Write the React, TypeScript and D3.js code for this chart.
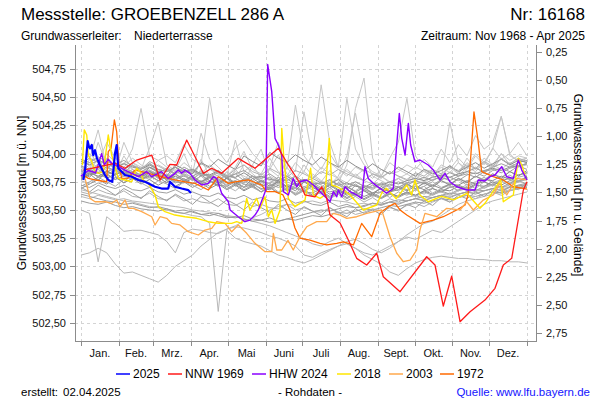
import React from 'react';
import * as d3 from 'd3';

type Pt = [number, number]; // [day of year, level m ü. NN]

// ---------- axis / label data ----------
const monthLabels = ['Jan.', 'Feb.', 'Mrz.', 'Apr.', 'Mai', 'Juni', 'Juli', 'Aug.', 'Sept.', 'Okt.', 'Nov.', 'Dez.'];
const monthStarts = [0, 31, 59, 90, 120, 151, 181, 212, 243, 273, 304, 334, 365];
const levelTicks = [502.5, 502.75, 503.0, 503.25, 503.5, 503.75, 504.0, 504.25, 504.5, 504.75];
const depthTicks = [0.25, 0.5, 0.75, 1.0, 1.25, 1.5, 1.75, 2.0, 2.25, 2.5, 2.75];
const GROUND_LEVEL = 505.155;
const LEVEL_DOMAIN: [number, number] = [502.338, 504.963];

// ---------- highlighted years ----------
const y2025: Pt[] = [[1.9, 503.766], [3.3, 503.854], [5.5, 504.11], [6.5, 504.06], [7.4, 504.047], [8.8, 504.076], [10, 503.987], [11.5, 504.03], [13, 503.96], [15.5, 503.899], [19.6, 503.81], [22.3, 503.766], [25.6, 503.75], [27.8, 504.0], [29.2, 504.076], [30.5, 503.87], [36, 503.81], [41.5, 503.795], [46.9, 503.766], [52.4, 503.75], [60.6, 503.706], [66, 503.69], [71.4, 503.69], [72.8, 503.75], [76.9, 503.706], [82.4, 503.69], [87.8, 503.676], [90, 503.65]];

const nnw1969: Pt[] = [[1.9, 503.854], [11.5, 503.875], [27.8, 503.914], [36, 503.87], [45.6, 503.943], [57.9, 503.987], [64.7, 503.766], [72.8, 503.905], [78.3, 503.899], [86.5, 504.12], [100.1, 503.825], [107, 503.87], [115.1, 503.825], [128.7, 503.958], [142.4, 503.87], [152, 503.958], [161.5, 504.047], [169.7, 503.899], [179.2, 503.737], [183.3, 503.633], [191.5, 503.617], [197, 503.706], [201.1, 503.603], [203.8, 503.455], [212, 503.384], [218.8, 503.233], [225.6, 503.071], [233.8, 503.012], [242, 503.116], [247.4, 502.908], [261.1, 502.775], [282.9, 503.085], [289.7, 503.012], [296.5, 502.648], [303.4, 502.914], [310.2, 502.509], [318.4, 502.598], [330.6, 502.701], [338.8, 502.805], [345.6, 503.012], [352.5, 503.071], [362, 503.677], [365, 503.75]];

const hhw2024: Pt[] = [[0, 503.8], [6, 503.85], [12, 503.83], [16.9, 504.0], [19.1, 503.899], [22.3, 503.95], [25.1, 503.914], [27.8, 503.899], [36, 503.854], [46.9, 503.795], [53.8, 503.84], [57.9, 503.795], [66, 503.84], [71.4, 503.78], [76.9, 503.825], [79.6, 503.854], [82.4, 503.825], [85.1, 503.854], [89.2, 503.825], [93.3, 503.766], [98.8, 503.721], [104.2, 503.736], [108.3, 503.795], [111.1, 503.78], [115.1, 503.648], [120.6, 503.573], [122, 503.5], [128.7, 503.44], [134.2, 503.396], [138.3, 503.41], [142.4, 503.455], [145.1, 503.5], [149.2, 503.617], [151.2, 503.677], [152.8, 504.79], [156.1, 504.549], [158.8, 504.135], [161.5, 504.076], [164.3, 503.987], [165.6, 503.662], [169.7, 503.633], [173.7, 503.78], [176.5, 503.706], [179.2, 503.75], [184.7, 503.766], [190.1, 503.721], [195.6, 503.662], [201.1, 503.603], [203.8, 503.573], [206.5, 503.662], [209.3, 503.617], [210.6, 503.677], [213.4, 503.617], [216.1, 503.706], [220.2, 503.662], [225.6, 503.633], [229.7, 503.603], [232.4, 503.884], [235.1, 503.78], [239.2, 503.736], [244.7, 503.692], [250.2, 503.648], [255.6, 503.692], [257.8, 504.0], [260.5, 504.357], [262.5, 504.135], [265.2, 503.987], [267.9, 504.268], [269.8, 504.076], [273.3, 503.928], [277.4, 503.943], [284.2, 503.899], [288.3, 503.854], [293.8, 503.766], [297.9, 503.825], [302, 503.75], [307.5, 503.706], [315.7, 503.677], [322.5, 503.677], [325.1, 503.766], [330.6, 503.757], [334.7, 503.795], [338.8, 503.81], [344.3, 503.884], [348.4, 503.795], [353.8, 503.78], [357.9, 503.943], [360.7, 503.854], [365, 503.766]];

const y2018: Pt[] = [[1.1, 503.899], [2.7, 504.21], [4.7, 504.165], [6, 503.987], [8.8, 503.928], [11.5, 503.84], [14.2, 503.825], [18.3, 503.84], [22.3, 504.165], [25.1, 503.987], [30.5, 503.78], [36, 503.766], [41.5, 503.75], [45.6, 503.87], [48.3, 503.84], [51, 503.766], [55.1, 503.736], [60.6, 503.633], [63.3, 503.529], [68.7, 503.485], [76.9, 503.455], [85.1, 503.44], [94.7, 503.426], [104.2, 503.396], [112.4, 503.381], [123.3, 503.381], [127.4, 503.396], [131.5, 503.381], [135.6, 503.603], [138.3, 503.5], [143.8, 503.603], [146.5, 503.515], [150.6, 503.617], [153.3, 503.44], [156.1, 503.5], [158.8, 503.381], [162.9, 503.5], [164.3, 504.224], [166.4, 503.899], [169.7, 503.603], [175.1, 503.529], [183.3, 503.588], [187.9, 503.87], [190.1, 503.633], [195.6, 503.603], [199.7, 503.633], [203.2, 504.135], [205.2, 503.721], [209.3, 503.706], [214.7, 503.677], [220.2, 503.633], [231, 503.5], [242, 503.544], [246, 503.648], [250, 503.692], [258, 503.6], [266.6, 503.721], [270.6, 503.633], [273.3, 503.766], [277.4, 503.633], [284.2, 503.573], [295, 503.62], [305, 503.59], [315.7, 503.648], [326.5, 503.515], [330.6, 503.559], [343.5, 503.766], [345.6, 503.573], [353.8, 503.633], [357.9, 503.958], [360.7, 503.899], [363.4, 503.81]];

const y2003: Pt[] = [[3.3, 503.78], [7.4, 503.603], [11.5, 503.573], [19.6, 503.573], [25.1, 503.559], [29.2, 503.588], [31.9, 503.529], [36, 503.588], [38.7, 503.515], [42.8, 503.515], [49.7, 503.485], [57.9, 503.44], [60.6, 503.367], [64.7, 503.44], [70.1, 503.426], [74.2, 503.381], [81, 503.367], [87.8, 503.307], [96, 503.278], [101.5, 503.322], [107, 503.337], [111.1, 503.396], [117.9, 503.381], [123.3, 503.307], [128.7, 503.367], [135.6, 503.293], [142.4, 503.204], [150.6, 503.13], [156.1, 503.13], [157.4, 503.293], [160.2, 503.145], [164.3, 503.145], [169.4, 503.23], [173.7, 503.145], [179.2, 503.263], [184.7, 503.351], [192.9, 503.396], [201.1, 503.396], [206.5, 503.47], [212, 503.455], [217.5, 503.426], [225.6, 503.44], [233.8, 503.47], [246.1, 503.5], [252.9, 503.263], [258.4, 503.116], [263.8, 503.041], [269.3, 503.056], [274.7, 503.145], [277.4, 503.322], [281.5, 503.47], [291.1, 503.44], [299.3, 503.515], [310.2, 503.5], [315.7, 503.573], [321.1, 503.5], [329.2, 503.588], [337.4, 503.633], [342.9, 503.736], [348.4, 503.633], [356.6, 503.78], [365, 503.766]];

const y1972: Pt[] = [[1.9, 503.81], [6, 503.78], [11.5, 503.766], [16.9, 503.757], [21, 503.75], [22.3, 504.017], [24.6, 504.047], [27.3, 504.298], [29.2, 504.194], [31.1, 503.899], [33.3, 503.78], [38.5, 503.783], [44.2, 503.854], [49.7, 503.84], [60.6, 503.81], [76.9, 503.766], [85.1, 503.75], [93.3, 503.736], [104.2, 503.677], [112.4, 503.795], [120.6, 503.736], [126, 503.75], [136.9, 503.766], [147.9, 503.721], [152, 503.662], [158.8, 503.662], [165.3, 503.633], [171, 503.5], [175.1, 503.34], [179.2, 503.25], [187.4, 503.233], [195.6, 503.204], [201.1, 503.19], [209.3, 503.204], [214.7, 503.218], [222.9, 503.19], [229.7, 503.381], [233.8, 503.322], [237.9, 503.263], [244.7, 503.47], [251.5, 503.529], [257, 503.559], [261.1, 503.5], [266.6, 503.455], [277.4, 503.381], [288.3, 503.41], [296.5, 503.44], [307.5, 503.5], [314.3, 503.544], [316.7, 503.633], [321.6, 504.37], [324.9, 504.12], [327.9, 503.84], [337.4, 503.795], [345.6, 503.766], [353.8, 503.706], [362, 503.692], [365, 503.685]];

// ---------- other years (weekly values, cm above 503.00 m ü. NN) ----------
const GREY_BASE = 503.0;
const g01 = [86, 83, 89, 85, 81, 87, 84, 80, 85, 82, 78, 84, 81, 77, 83, 79, 76, 81, 78, 74, 80, 76, 73, 79, 75, 72, 77, 74, 70, 76, 72, 69, 75, 71, 68, 73, 70, 67, 72, 69, 74, 71, 76, 73, 78, 75, 80, 77, 82, 79, 84, 81, 83];
const g02 = [93, 90, 94, 91, 88, 91, 88, 86, 90, 86, 84, 88, 84, 86, 82, 81, 85, 80, 79, 83, 78, 80, 77, 76, 80, 75, 77, 74, 73, 77, 72, 74, 71, 70, 74, 72, 75, 73, 76, 78, 76, 79, 81, 79, 82, 84, 82, 85, 87, 85, 88, 89, 91];
const g03 = [72, 70, 74, 71, 69, 72, 68, 67, 70, 66, 65, 68, 64, 66, 63, 62, 65, 61, 60, 63, 59, 61, 58, 57, 60, 56, 58, 55, 54, 57, 53, 55, 52, 53, 56, 54, 57, 55, 58, 60, 58, 61, 63, 61, 64, 66, 64, 67, 69, 67, 70, 71, 73];
const g04 = [80, 85, 79, 84, 87, 81, 86, 80, 77, 83, 76, 82, 75, 79, 74, 79, 73, 78, 71, 76, 70, 75, 69, 74, 68, 72, 66, 71, 65, 70, 64, 68, 63, 67, 62, 66, 61, 66, 63, 68, 64, 69, 66, 71, 67, 73, 69, 75, 71, 77, 73, 79, 81];
const g05 = [77, 81, 83, 78, 82, 84, 79, 77, 80, 76, 79, 75, 74, 78, 73, 76, 72, 71, 75, 70, 73, 69, 68, 72, 67, 70, 66, 65, 69, 64, 67, 63, 66, 62, 65, 61, 64, 62, 66, 63, 67, 69, 66, 70, 72, 69, 73, 75, 72, 76, 78, 75, 80];
const g06 = [89, 86, 83, 88, 85, 82, 84, 81, 79, 84, 81, 78, 80, 77, 75, 80, 77, 74, 76, 73, 71, 76, 73, 70, 72, 69, 67, 72, 69, 66, 68, 65, 63, 68, 65, 66, 69, 71, 68, 73, 75, 72, 77, 79, 76, 81, 83, 80, 85, 87, 84, 89, 91];
const g07 = [82, 84, 79, 81, 86, 80, 77, 83, 85, 78, 80, 76, 82, 79, 74, 78, 81, 75, 72, 78, 76, 71, 74, 79, 73, 70, 75, 72, 68, 74, 77, 70, 67, 72, 69, 73, 66, 70, 74, 68, 71, 75, 70, 73, 77, 72, 75, 79, 74, 77, 81, 76, 79];
const g08 = [69, 73, 77, 73, 79, 74, 78, 73, 77, 72, 76, 71, 75, 70, 74, 69, 73, 68, 72, 67, 71, 66, 70, 65, 69, 64, 68, 63, 67, 62, 66, 61, 65, 60, 64, 61, 65, 62, 66, 63, 67, 64, 68, 67, 71, 68, 72, 71, 75, 72, 76, 75, 79];
const g09 = [91, 96, 92, 87, 92, 86, 90, 84, 88, 83, 87, 82, 86, 80, 84, 79, 83, 78, 82, 76, 80, 75, 79, 74, 78, 72, 76, 71, 75, 70, 74, 69, 73, 68, 72, 69, 73, 70, 74, 76, 73, 77, 79, 76, 80, 82, 79, 84, 86, 83, 87, 89, 86];
const g10 = [76, 73, 79, 75, 71, 77, 80, 74, 70, 76, 73, 69, 75, 72, 68, 74, 77, 71, 67, 73, 70, 66, 72, 75, 68, 65, 71, 68, 64, 70, 73, 66, 62, 68, 65, 61, 67, 70, 64, 68, 71, 65, 69, 72, 67, 71, 74, 69, 73, 76, 71, 75, 78];
const g11 = [85, 79, 88, 82, 77, 85, 80, 75, 84, 79, 74, 82, 77, 73, 81, 76, 71, 79, 74, 70, 78, 73, 69, 76, 71, 67, 75, 70, 66, 73, 68, 64, 72, 67, 63, 71, 66, 68, 73, 69, 74, 70, 76, 72, 78, 74, 80, 76, 82, 78, 84, 80, 85];
const g12 = [71, 75, 79, 81, 77, 80, 83, 78, 81, 76, 79, 74, 78, 73, 76, 71, 75, 69, 73, 68, 72, 66, 70, 65, 69, 63, 67, 62, 66, 61, 65, 60, 64, 59, 63, 60, 64, 61, 65, 62, 66, 63, 67, 64, 68, 70, 67, 71, 73, 70, 74, 76, 73];
const g13 = [84, 82, 86, 81, 85, 80, 84, 79, 83, 78, 82, 77, 81, 76, 80, 74, 78, 72, 76, 70, 74, 68, 72, 66, 70, 64, 68, 62, 66, 60, 64, 58, 62, 57, 61, 56, 60, 57, 61, 63, 60, 64, 66, 63, 67, 69, 66, 70, 72, 69, 73, 75, 77];
const g14 = [79, 83, 80, 84, 81, 85, 82, 79, 84, 81, 77, 80, 76, 80, 75, 79, 74, 78, 73, 77, 72, 76, 71, 75, 70, 74, 69, 73, 68, 72, 67, 71, 66, 70, 65, 69, 66, 70, 67, 71, 68, 72, 69, 73, 72, 76, 73, 77, 76, 80, 77, 81, 83];
const g15 = [95, 92, 97, 93, 90, 94, 89, 87, 91, 86, 84, 88, 83, 85, 81, 80, 84, 79, 82, 85, 80, 78, 82, 77, 76, 80, 75, 78, 74, 73, 77, 72, 75, 71, 70, 74, 71, 75, 72, 76, 79, 76, 80, 83, 80, 84, 87, 84, 88, 91, 88, 92, 94];
const g16 = [66, 64, 68, 65, 63, 67, 62, 61, 65, 60, 59, 63, 58, 60, 57, 56, 60, 55, 54, 58, 53, 55, 52, 51, 55, 50, 52, 49, 48, 52, 47, 50, 46, 48, 51, 49, 52, 50, 54, 56, 53, 57, 60, 57, 61, 63, 60, 64, 66, 63, 67, 69, 71];
const g17 = [78, 82, 76, 85, 80, 74, 83, 79, 88, 84, 80, 90, 86, 82, 92, 88, 95, 90, 86, 98, 93, 89, 101, 96, 92, 99, 94, 90, 97, 92, 88, 94, 89, 85, 91, 86, 82, 88, 84, 80, 86, 82, 85, 89, 84, 88, 92, 87, 91, 95, 90, 94, 92];
const g18 = [70, 66, 72, 68, 63, 69, 65, 60, 67, 62, 58, 64, 60, 55, 62, 57, 53, 59, 55, 50, 57, 52, 48, 55, 50, 46, 53, 49, 45, 52, 48, 44, 51, 47, 50, 46, 53, 49, 55, 52, 58, 54, 61, 57, 63, 60, 66, 62, 68, 65, 71, 68, 74];
const g19 = [88, 84, 91, 95, 87, 83, 90, 86, 93, 89, 85, 82, 88, 84, 91, 87, 83, 80, 86, 90, 84, 81, 87, 83, 79, 85, 82, 78, 84, 81, 86, 82, 79, 76, 82, 79, 84, 80, 77, 83, 80, 86, 82, 88, 85, 90, 87, 93, 89, 95, 91, 96, 93];
const m01 = [58, 56, 55, 57, 54, 52, 53, 51, 50, 49, 51, 48, 47, 49, 46, 45, 47, 44, 43, 45, 42, 41, 43, 40, 42, 44, 46, 48, 50, 49, 51, 53, 52, 54, 56, 55, 57, 59, 58, 60, 62, 61, 63, 65, 64, 66, 68, 67, 69, 71, 70, 72, 74];
const m02 = [64, 62, 60, 58, 57, 55, 56, 54, 52, 53, 51, 49, 50, 48, 46, 47, 45, 43, 44, 42, 40, 41, 39, 40, 42, 41, 43, 45, 44, 46, 48, 47, 49, 51, 50, 52, 54, 53, 55, 57, 56, 58, 60, 59, 61, 63, 62, 64, 66, 65, 67, 69, 70];
const s01 = [80, 95, 121, 88, 84, 110, 92, 86, 105, 128, 90, 85, 100, 82, 118, 95, 88, 80, 112, 84, 90, 78, 86, 99, 82, 76, 90, 80, 75, 85, 78, 74, 82, 76, 73, 80, 75, 78, 82, 77, 85, 80, 88, 83, 92, 86, 98, 90, 105, 95, 100, 92, 96];
const s02 = [88, 100, 92, 110, 96, 90, 104, 140, 98, 94, 98, 92, 108, 95, 90, 149, 102, 92, 105, 112, 100, 92, 88, 110, 86, 143, 98, 88, 82, 92, 86, 80, 88, 84, 78, 86, 82, 84, 90, 86, 95, 88, 104, 92, 108, 98, 116, 104, 110, 133, 100, 110, 98];
const s03 = [78, 85, 110, 90, 82, 98, 86, 80, 92, 85, 78, 88, 82, 76, 95, 80, 75, 84, 78, 74, 90, 104, 80, 76, 88, 78, 74, 82, 76, 72, 80, 98, 136, 96, 80, 76, 72, 78, 74, 80, 76, 84, 78, 90, 82, 96, 86, 92, 88, 100, 90, 95, 92];
const s04 = [82, 88, 84, 92, 86, 80, 90, 84, 78, 86, 80, 76, 84, 78, 74, 82, 76, 72, 86, 78, 74, 80, 76, 72, 78, 74, 70, 76, 72, 68, 74, 90, 140, 167, 96, 80, 74, 78, 72, 76, 74, 80, 76, 84, 80, 88, 84, 92, 86, 96, 90, 88, 92];
const s05 = [86, 92, 88, 96, 90, 86, 92, 88, 84, 90, 86, 82, 88, 84, 80, 86, 82, 78, 84, 80, 76, 82, 78, 74, 80, 76, 84, 78, 88, 82, 78, 86, 80, 76, 82, 80, 96, 110, 149, 98, 86, 84, 78, 128, 92, 84, 88, 82, 90, 86, 92, 88, 90];
const s06 = [84, 90, 86, 100, 92, 88, 96, 90, 86, 94, 88, 84, 92, 86, 82, 90, 84, 80, 88, 102, 86, 82, 96, 84, 80, 92, 84, 100, 161, 110, 88, 84, 80, 86, 82, 78, 84, 80, 76, 82, 78, 84, 80, 88, 82, 92, 86, 96, 90, 100, 94, 98, 96];
const s07 = [90, 84, 96, 88, 82, 92, 86, 80, 90, 84, 78, 88, 82, 76, 86, 80, 74, 84, 78, 90, 82, 76, 86, 80, 92, 84, 137, 96, 86, 100, 88, 149, 104, 90, 84, 80, 92, 86, 82, 88, 84, 80, 90, 86, 96, 88, 100, 92, 104, 133, 98, 94, 96];
const l01 = [50, 47, 4, 44, 38, 31, 32, 32, 30, 28, 22, 12, 30, 33, 32, 30, 29, 33, 36, 40, 43, 46, 50, 53, 55, 54, 57, 58, 56, 59, 58, 57, 55, 56, 54, 55, 57, 56, 58, 60, 59, 61, 63, 62, 64, 66, 65, 67, 69, 68, 70, 72, 71];
const l02 = [10, 12, 16, 12, 2, -6, -5, -8, -11, -14, -8, 0, 5, 10, 18, 24, 30, 33, 35, 34, 32, 30, 27, 25, 22, 18, 10, 8, 12, 15, 18, 20, 16, 10, 6, 2, -5, -8, -2, 3, 6, 8, 9, 8, 7, 7, 6, 6, 5, 5, 4, 4, 3];
const l03 = [68, 66, 64, 62, 60, 58, 57, 55, 53, 52, 50, 48, 47, 45, 44, 38, -40, 32, 25, 22, 20, 18, 14, 10, 8, 5, 3, 6, 10, 14, 18, 22, 24, 20, 15, 12, 16, 22, 28, 33, 38, 40, 45, 50, 55, 58, 60, 62, 64, 66, 68, 70, 72];
const l04 = [62, 60, 63, 61, 59, 60, 58, 57, 56, 55, 54, 53, 52, 50, 49, 48, 47, 45, 44, 42, 40, 38, 36, 33, 30, 27, 24, 20, 18, 22, 25, 20, 16, 12, 10, 14, 18, 22, 26, 24, 28, 32, 30, 35, 40, 45, 50, 55, 58, 60, 62, 64, 66];

const spikyYears = [s01, s02, s03, s04, s05, s06, s07];
const lowYears = [l01, l02, l03, l04, m01, m02];
const coreYears = [g01, g02, g03, g04, g05, g06, g07, g08, g09, g10, g11, g12, g13, g14, g15, g16, g17, g18, g19];

// ---------- styling / layout ----------
const FONT = "'Liberation Sans', Arial, Helvetica, sans-serif";
const PLOT = { left: 75, right: 536, top: 45, bottom: 341 };
const X_RANGE: [number, number] = [81, 527];

const highlights = [
  { label: '1972', data: y1972, color: '#ff6a00', width: 1.3, lx: 440 },
  { label: '2003', data: y2003, color: '#ffa94d', width: 1.3, lx: 389 },
  { label: '2018', data: y2018, color: '#ffe600', width: 1.4, lx: 337 },
  { label: 'HHW 2024', data: hhw2024, color: '#8a00ff', width: 1.4, lx: 252 },
  { label: 'NNW 1969', data: nnw1969, color: '#ff1a1a', width: 1.3, lx: 168 },
  { label: '2025', data: y2025, color: '#0000ff', width: 2.2, lx: 116 },
];
const legendOrder = ['2025', 'NNW 1969', 'HHW 2024', '2018', '2003', '1972'];

const fmt = (v: number) => v.toFixed(2).replace('.', ',');

export default function App() {
  const x = d3.scaleLinear().domain([0, 365]).range(X_RANGE);
  const y = d3.scaleLinear().domain(LEVEL_DOMAIN).range([PLOT.bottom, PLOT.top]);
  const yR = d3
    .scaleLinear()
    .domain([GROUND_LEVEL - LEVEL_DOMAIN[1], GROUND_LEVEL - LEVEL_DOMAIN[0]])
    .range([PLOT.top, PLOT.bottom]);
  const line = d3
    .line<Pt>()
    .x((d) => x(d[0]))
    .y((d) => y(d[1]));
  const greyPts = (vals: number[]): Pt[] =>
    vals.map((v, i) => [(i * 365) / (vals.length - 1), GREY_BASE + v / 100] as Pt);

  const midMonth = monthLabels.map((_, i) => (monthStarts[i] + monthStarts[i + 1]) / 2);

  return (
    <svg
      width={600}
      height={400}
      style={{ position: 'fixed', left: 0, top: 0, background: '#fff' }}
      fontFamily={FONT}
    >
      <rect x={0} y={0} width={600} height={400} fill="#fff" />
      {/* header */}
      <text x={21} y={20} fontSize={17} fill="#000">Messstelle: GROEBENZELL 286 A</text>
      <text x={585} y={20} fontSize={17} fill="#000" textAnchor="end">Nr: 16168</text>
      <text x={21} y={40} fontSize={12} fill="#000">Grundwasserleiter:</text>
      <text x={134} y={40} fontSize={12} fill="#000">Niederterrasse</text>
      <text x={585} y={40} fontSize={12} fill="#000" textAnchor="end">Zeitraum: Nov 1968 - Apr 2025</text>

      {/* grid */}
      <g stroke="#d4d4d4" strokeWidth={1} strokeDasharray="3,3">
        {levelTicks.map((t) => (
          <line key={'h' + t} x1={PLOT.left} x2={PLOT.right} y1={Math.round(y(t)) + 0.5} y2={Math.round(y(t)) + 0.5} />
        ))}
        {monthStarts.map((d) => (
          <line key={'v' + d} x1={Math.round(x(d)) + 0.5} x2={Math.round(x(d)) + 0.5} y1={PLOT.top} y2={PLOT.bottom} />
        ))}
      </g>

      {/* other years */}
      <g fill="none" strokeLinejoin="round">
        {spikyYears.map((s, i) => (
          <path key={'s' + i} d={line(greyPts(s)) || ''} stroke="#c6c6c6" strokeWidth={1} />
        ))}
        {lowYears.map((s, i) => (
          <path key={'l' + i} d={line(greyPts(s)) || ''} stroke={i < 4 ? '#b8b8b8' : '#9c9c9c'} strokeWidth={1} />
        ))}
        {coreYears.map((s, i) => (
          <path key={'g' + i} d={line(greyPts(s)) || ''} stroke={i % 3 === 0 ? '#b0b0b0' : i % 3 === 1 ? '#8e8e8e' : '#a0a0a0'} strokeWidth={1} />
        ))}
      </g>

      {/* highlighted years */}
      <g fill="none" strokeLinejoin="round">
        {highlights.map((h) => (
          <path key={h.label} d={line(h.data) || ''} stroke={h.color} strokeWidth={h.width} />
        ))}
      </g>

      {/* axes */}
      <g stroke="#8c8c8c" strokeWidth={1} fill="none">
        <line x1={PLOT.left + 0.5} x2={PLOT.left + 0.5} y1={PLOT.top} y2={PLOT.bottom + 0.5} />
        <line x1={PLOT.right + 0.5} x2={PLOT.right + 0.5} y1={PLOT.top} y2={PLOT.bottom + 0.5} />
        <line x1={PLOT.left} x2={PLOT.right + 1} y1={PLOT.bottom + 0.5} y2={PLOT.bottom + 0.5} />
        {levelTicks.map((t) => (
          <line key={'lt' + t} x1={PLOT.left - 5} x2={PLOT.left} y1={Math.round(y(t)) + 0.5} y2={Math.round(y(t)) + 0.5} />
        ))}
        {depthTicks.map((t) => (
          <line key={'rt' + t} x1={PLOT.right + 1} x2={PLOT.right + 6} y1={Math.round(yR(t)) + 0.5} y2={Math.round(yR(t)) + 0.5} />
        ))}
        {monthStarts.map((d) => (
          <line key={'xt' + d} x1={Math.round(x(d)) + 0.5} x2={Math.round(x(d)) + 0.5} y1={PLOT.bottom} y2={PLOT.bottom + 5} />
        ))}
      </g>
      <g fontSize={11} fill="#111">
        {levelTicks.map((t) => (
          <text key={'ll' + t} x={66} y={y(t) + 4} textAnchor="end">{fmt(t)}</text>
        ))}
        {depthTicks.map((t) => (
          <text key={'rl' + t} x={546} y={yR(t) + 4}>{fmt(t)}</text>
        ))}
        {monthLabels.map((m, i) => (
          <text key={m} x={x(midMonth[i])} y={357} textAnchor="middle">{m}</text>
        ))}
      </g>
      <text transform="translate(26,193) rotate(-90)" textAnchor="middle" fontSize={12} fill="#000">
        Grundwasserstand [m ü. NN]
      </text>
      <text transform="translate(574,185) rotate(90)" textAnchor="middle" fontSize={12} fill="#000">
        Grundwasserstand [m u. Gelände]
      </text>

      {/* legend */}
      <g fontSize={12}>
        {legendOrder.map((lab) => {
          const h = highlights.find((e) => e.label === lab)!;
          return (
            <g key={'lg' + lab}>
              <line x1={h.lx} x2={h.lx + 14} y1={374} y2={374} stroke={h.color} strokeWidth={1.5} />
              <text x={h.lx + 17} y={378} fill="#000">{lab}</text>
            </g>
          );
        })}
      </g>

      {/* footer */}
      <g fontSize={11.5}>
        <text x={21} y={396} fill="#000">erstellt:</text>
        <text x={63} y={396} fill="#000">02.04.2025</text>
        <text x={310} y={396} fill="#000" textAnchor="middle">- Rohdaten -</text>
        <text x={590} y={396} fill="#1414ff" textAnchor="end">Quelle: www.lfu.bayern.de</text>
      </g>
    </svg>
  );
}
